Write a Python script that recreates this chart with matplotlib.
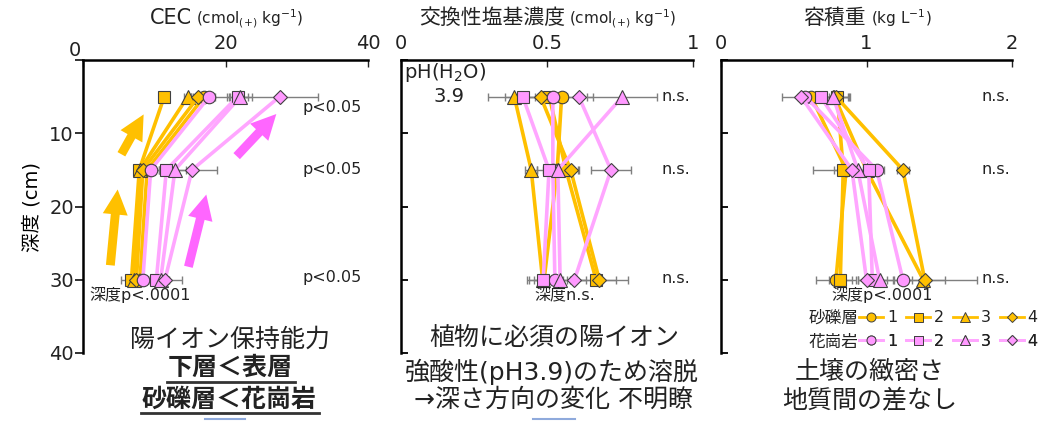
import matplotlib
matplotlib.use("Agg")
import matplotlib.pyplot as plt
from matplotlib.lines import Line2D
from matplotlib.transforms import ScaledTranslation

plt.rcParams["font.family"] = ["DejaVu Sans", "Noto Sans CJK JP"]
plt.rcParams["mathtext.fontset"] = "dejavusans"
plt.rcParams["text.color"] = "#222222"

depth = [5, 15, 30]
labels = ["1", "2", "3", "4"]

# CEC (cmol(+) kg-1), rows = series 1..4, cols = depth
cec_gravel = [[17.0, 9.0, 8.0], [11.4, 7.9, 6.8], [14.7, 8.0, 7.1], [16.2, 8.4, 7.5]]
cec_granite = [[17.7, 9.5, 8.4], [21.7, 11.7, 10.3], [22.1, 12.9, 10.9], [27.6, 15.3, 11.5]]
cec_gravel_se = [[1.5, 0.8, 0.7], [0.6, 0.7, 1.4], [0.5, 0.6, 0.6], [1.0, 0.6, 0.6]]
cec_granite_se = [[3.0, 1.2, 1.0], [1.5, 1.0, 0.9], [1.6, 1.5, 1.2], [5.4, 3.5, 2.4]]

# exchangeable bases (cmol(+) kg-1)
base_gravel = [[0.55, 0.535, 0.49], [0.508, 0.565, 0.668], [0.388, 0.446, 0.485], [0.478, 0.581, 0.679]]
base_granite = [[0.52, 0.52, 0.527], [0.417, 0.507, 0.487], [0.758, 0.537, 0.545], [0.609, 0.719, 0.594]]
base_gravel_se = [[0.06, 0.04, 0.05], [0.05, 0.04, 0.07], [0.09, 0.02, 0.055], [0.05, 0.03, 0.10]]
base_granite_se = [[0.05, 0.03, 0.04], [0.06, 0.04, 0.03], [0.12, 0.05, 0.05], [0.05, 0.07, 0.04]]

# bulk density (kg L-1)
bulk_gravel = [[0.62, 0.86, 0.79], [0.80, 0.84, 0.82], [0.78, 1.00, 1.39], [0.79, 1.25, 1.40]]
bulk_granite = [[0.58, 1.07, 1.25], [0.685, 1.015, 1.04], [0.77, 0.94, 1.09], [0.55, 0.90, 1.00]]
bulk_gravel_se = [[0.06, 0.08, 0.14], [0.09, 0.21, 0.08], [0.10, 0.10, 0.15], [0.08, 0.04, 0.36]]
bulk_granite_se = [[0.05, 0.05, 0.06], [0.06, 0.04, 0.10], [0.05, 0.05, 0.09], [0.13, 0.05, 0.06]]

orange = "#FFC000"
pink_line = "#FFA6FF"
pink_fill = "#FF99FF"
edge = "#404040"
markers = ["o", "s", "^", "D"]
msizes = [9, 9, 9.5, 7]

W, H = 1043, 421
fig = plt.figure(figsize=(W / 100, H / 100), dpi=100)


def px_axes(l, r, t, b):
    return fig.add_axes([l / W, 1 - b / H, (r - l) / W, (b - t) / H])


def ftext(x, y, s, **kw):
    return fig.text(x / W, 1 - y / H, s, **kw)


ax1 = px_axes(83, 368, 60, 353)
ax2 = px_axes(401, 693, 60, 353)
ax3 = px_axes(721, 1012, 60, 353)

panels = [
    (ax1, 40, [0, 20, 40], ["0", "20", "40"], cec_gravel, cec_granite, cec_gravel_se, cec_granite_se),
    (ax2, 1, [0, 0.5, 1], ["0", "0.5", "1"], base_gravel, base_granite, base_gravel_se, base_granite_se),
    (ax3, 2, [0, 1, 2], ["0", "1", "2"], bulk_gravel, bulk_granite, bulk_gravel_se, bulk_granite_se),
]

for ax, xmax, xt, xtl, grav, gran, grav_se, gran_se in panels:
    for vals, se in zip(grav + gran, grav_se + gran_se):
        ax.errorbar(vals, depth, xerr=se, fmt="none", ecolor="#7f7f7f",
                    elinewidth=1, capsize=3, capthick=1, zorder=2)
    for i in range(4):
        ax.plot(grav[i], depth, color=orange, lw=2.6, marker=markers[i], ms=msizes[i],
                mfc=orange, mec=edge, mew=0.8, zorder=3, clip_on=False)
    for i in range(4):
        ax.plot(gran[i], depth, color=pink_line, lw=2.6, marker=markers[i], ms=msizes[i],
                mfc=pink_fill, mec=edge, mew=0.8, zorder=3, clip_on=False)
    ax.set_xlim(0, xmax)
    ax.set_ylim(40, 0)
    ax.xaxis.tick_top()
    ax.set_xticks(xt)
    ax.set_xticklabels(xtl)
    ax.set_yticks([0, 10, 20, 30, 40])
    for s in ["right", "bottom"]:
        ax.spines[s].set_visible(False)
    for s in ["top", "left"]:
        ax.spines[s].set_linewidth(1.8)
    ax.tick_params(axis="x", direction="in", length=5, width=1, labelsize=14, pad=5,
                   colors="#222222")
    ax.set_facecolor("none")

ax1.tick_params(axis="y", direction="out", length=5.5, width=1.3, labelsize=14, pad=1,
                colors="#222222")
ax1.set_yticklabels(["", "10", "20", "30", "40"])
lab0 = ax1.get_xticklabels()[0]
lab0.set_transform(lab0.get_transform() + ScaledTranslation(-0.08, -0.07, fig.dpi_scale_trans))
for ax in [ax2, ax3]:
    ax.tick_params(axis="y", direction="in", length=5, width=1.3, labelleft=False)

# axis titles
ftext(192, 24, "CEC", ha="right", va="baseline", fontsize=15)
ftext(196, 24, r"(cmol$_{(+)}$ kg$^{-1}$)", ha="left", va="baseline", fontsize=11)
ftext(565, 24, "交換性塩基濃度", ha="right", va="baseline", fontsize=15)
ftext(569, 24, r"(cmol$_{(+)}$ kg$^{-1}$)", ha="left", va="baseline", fontsize=11)
ftext(866, 24, "容積重", ha="right", va="baseline", fontsize=15)
ftext(871, 24, r"(kg L$^{-1}$)", ha="left", va="baseline", fontsize=11)

ax1.set_ylabel("深度 (cm)", fontsize=14)
ax1.yaxis.set_label_coords(-42 / 285, 0.5)

# significance
for d in [6.5, 14.9, 29.7]:
    ax1.text(39.1, d, "p<0.05", ha="right", va="center", fontsize=11.5)
for d in [5, 15, 29.8]:
    ax2.text(0.99, d, "n.s.", ha="right", va="center", fontsize=11.5)
    ax3.text(1.99, d, "n.s.", ha="right", va="center", fontsize=11.5)
ftext(140, 295, "深度p<.0001", ha="center", va="center", fontsize=11.5)
ftext(565, 296, "深度n.s.", ha="center", va="center", fontsize=11.5)
ftext(882, 295, "深度p<.0001", ha="center", va="center", fontsize=11.5)

ftext(404, 72, r"pH(H$_2$O)", ha="left", va="center", fontsize=14)
ftext(449, 97, "3.9", ha="center", va="center", fontsize=14)

# arrows
arrow_kw = dict(arrowstyle="simple,head_length=0.9,head_width=0.9,tail_width=0.32",
                mutation_scale=20, lw=0)
for tail, head, col in [((5.2, 13.2), (8.7, 7.1), orange), ((3.8, 28.4), (4.9, 17.3), orange),
                        ((21.3, 13.4), (27.4, 7.1), "#FF66FF"), ((14.7, 28.6), (17.4, 18.0), "#FF66FF")]:
    ax1.annotate("", xy=head, xytext=tail,
                 arrowprops=dict(color=col, **arrow_kw), zorder=1)

# legend
for row, (name, lc, fc) in enumerate([("砂礫層", orange, orange), ("花崗岩", pink_line, pink_fill)]):
    y = 318 + row * 23.5
    ftext(858, y, name, ha="right", va="center", fontsize=12)
    handles = [Line2D([], [], color=lc, lw=2, marker=m, ms=ms * 0.72, mfc=fc, mec=edge, mew=0.7)
               for m, ms in zip(markers, msizes)]
    leg = ax3.legend(handles, labels, ncol=4, loc="center left",
                     bbox_to_anchor=(859 / W, 1 - y / H), bbox_transform=fig.transFigure,
                     frameon=False, fontsize=11.5, handlelength=1.5, handletextpad=0.25,
                     columnspacing=0.55, borderpad=0, borderaxespad=0)
    ax3.add_artist(leg)

# bottom notes
fs = 18
ftext(230, 340, "陽イオン保持能力", ha="center", va="center", fontsize=fs)
u1 = ftext(230, 368, "下層＜表層", ha="center", va="center", fontsize=fs, weight="bold")
u2 = ftext(229, 400, "砂礫層＜花崗岩", ha="center", va="center", fontsize=fs, weight="bold")
ftext(554, 338, "植物に必須の陽イオン", ha="center", va="center", fontsize=fs)
ftext(552, 372, "強酸性(pH3.9)のため溶脱", ha="center", va="center", fontsize=fs)
ftext(554, 400, "→深さ方向の変化 不明瞭", ha="center", va="center", fontsize=fs)
ftext(870, 372, "土壌の緻密さ", ha="center", va="center", fontsize=fs)
ftext(870, 400, "地質間の差なし", ha="center", va="center", fontsize=fs)

fig.canvas.draw()
for t, yline in [(u1, 382), (u2, 413)]:
    bb = t.get_window_extent()
    fig.add_artist(Line2D([(bb.x0 - 1) / W, (bb.x1 + 2) / W], [1 - yline / H] * 2,
                          color="#333333", lw=2, transform=fig.transFigure, zorder=5))
for x0, x1 in [(205, 245), (533, 575)]:
    fig.add_artist(Line2D([x0 / W, x1 / W], [1 - 419 / H] * 2,
                          color="#8FAADC", lw=1.5, transform=fig.transFigure))

fig.savefig("out.png", dpi=100)
